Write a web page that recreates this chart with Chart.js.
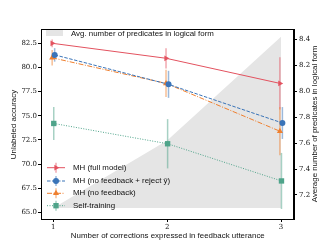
<!DOCTYPE html>
<html>
<head>
<meta charset="utf-8">
<script src="https://cdn.jsdelivr.net/npm/chart.js@4.4.1/dist/chart.umd.min.js"></script>
<style>
    html, body { margin: 0; padding: 0; background: #fff; }
</style>
</head>
<body>
<canvas id="chart" width="327" height="245"></canvas>
<script>
// x positions (number of corrections) and per-series small jitter
const corrections = [1, 2, 3];
const jitter = [-0.01, 0.012, -0.01, 0.004];

// Unlabeled accuracy, mean and error
const fullModel = [82.5, 80.95, 78.35];
const fullModelErr = [0.4, 1.05, 2.7];
const rejectModel = [81.3, 78.25, 74.25];
const rejectModelErr = [0.7, 1.4, 1.65];
const noFeedback = [81.0, 78.35, 73.4];
const noFeedbackErr = [0.8, 1.4, 2.5];
const selfTraining = [74.2, 72.1, 68.25];
const selfTrainingErr = [1.7, 2.55, 2.9];

// Avg. number of predicates (right axis)
const avgPredicates = [7.1, 7.62, 8.42];
const predicateBase = 7.1;

const accuracyTicks = [65.0, 67.5, 70.0, 72.5, 75.0, 77.5, 80.0, 82.5];
const predicateTicks = [7.2, 7.4, 7.6, 7.8, 8.0, 8.2, 8.4];

const seriesNames = ['MH (full model)', 'MH (no feedback + reject \u0177)', 'MH (no feedback)', 'Self-training'];
const seriesColors = ['#e3525f', '#3a74b8', '#ef7f2e', '#4fa48a'];
const errColors = ['rgba(227,82,95,0.5)', 'rgba(58,116,184,0.5)', 'rgba(239,127,46,0.5)', 'rgba(79,164,138,0.5)'];
const seriesValues = [fullModel, rejectModel, noFeedback, selfTraining];
const seriesErrors = [fullModelErr, rejectModelErr, noFeedbackErr, selfTrainingErr];
const markerStyles = ['triangle', 'circle', 'triangle', 'rect'];
const markerRotation = [90, 0, 0, 0];
const markerRadius = [3.3, 3, 3.5, 3.8];
const dashes = [[], [3.5, 1.5], [5, 1.5, 1, 1.5], [1, 1.5]];

const tickFont = { family: 'DejaVu Serif', size: 7 };
const sansFont = '7.9px "Liberation Sans", sans-serif';

const lineSets = seriesValues.map((vals, s) => ({
    label: seriesNames[s],
    yAxisID: 'y',
    data: vals.map((v, i) => ({ x: corrections[i] + jitter[s], y: v })),
    borderColor: seriesColors[s],
    backgroundColor: seriesColors[s],
    borderWidth: 1,
    borderDash: dashes[s],
    pointStyle: markerStyles[s],
    pointRotation: markerRotation[s],
    pointRadius: markerRadius[s],
    pointBorderWidth: 0,
    fill: false,
    order: 1
}));

const errorBars = {
    id: 'errorBars',
    afterDatasetDraw(chart, args) {
        if (args.index !== 0) return;
        const ctx = chart.ctx;
        const xs = chart.scales.x, ys = chart.scales.y;
        ctx.save();
        ctx.lineWidth = 1.5;
        seriesValues.forEach((vals, s) => {
            ctx.strokeStyle = errColors[s];
            vals.forEach((v, i) => {
                const px = xs.getPixelForValue(corrections[i] + jitter[s]);
                ctx.beginPath();
                ctx.moveTo(px, ys.getPixelForValue(v - seriesErrors[s][i]));
                ctx.lineTo(px, ys.getPixelForValue(v + seriesErrors[s][i]));
                ctx.stroke();
            });
        });
        ctx.restore();
    }
};

const decorations = {
    id: 'decorations',
    afterDraw(chart) {
        const ctx = chart.ctx;
        const a = chart.chartArea;
        ctx.save();
        // frame
        ctx.strokeStyle = '#000';
        ctx.lineWidth = 1;
        ctx.strokeRect(a.left + 0.5, a.top + 0.5, a.right - a.left - 1, a.bottom - a.top);

        ctx.font = sansFont;
        ctx.textBaseline = 'middle';

        // gray area legend
        ctx.fillStyle = '#e5e5e5';
        ctx.fillRect(46, 30, 17, 6);
        ctx.fillStyle = '#111';
        ctx.textAlign = 'left';
        ctx.fillText('Avg. number of predicates in logical form', 71, 33.5);

        // lines legend
        const rows = [167.7, 181, 193.3, 205.7];
        rows.forEach((y, s) => {
            ctx.strokeStyle = errColors[s];
            ctx.lineWidth = 1.5;
            ctx.setLineDash([]);
            ctx.beginPath();
            ctx.moveTo(56, y - 5);
            ctx.lineTo(56, y + 5);
            ctx.stroke();
            ctx.strokeStyle = seriesColors[s];
            ctx.lineWidth = 1;
            ctx.setLineDash(dashes[s]);
            ctx.beginPath();
            ctx.moveTo(47, y);
            ctx.lineTo(65, y);
            ctx.stroke();
            ctx.setLineDash([]);
            ctx.fillStyle = seriesColors[s];
            Chart.helpers.drawPoint(ctx, {
                pointStyle: markerStyles[s], radius: markerRadius[s],
                rotation: markerRotation[s], borderWidth: 0
            }, 56, y);
            ctx.fillStyle = '#111';
            ctx.fillText(seriesNames[s], 73, y);
        });

        // axis titles
        ctx.textAlign = 'center';
        ctx.fillText('Number of corrections expressed in feedback utterance', 167.8, 235.5);
        ctx.save();
        ctx.translate(14, 124.5);
        ctx.rotate(-Math.PI / 2);
        ctx.fillText('Unlabeled accuracy', 0, 0);
        ctx.restore();
        ctx.save();
        ctx.translate(315, 124);
        ctx.rotate(-Math.PI / 2);
        ctx.fillText('Average number of predicates in logical form', 0, 0);
        ctx.restore();
        ctx.restore();
    }
};

const axisCommon = {
    grid: { drawOnChartArea: false, drawTicks: true, tickLength: 3, tickColor: '#000', lineWidth: 1 },
    border: { display: true, color: '#000', width: 1 },
    ticks: { font: tickFont, color: '#111', padding: 1 }
};

new Chart(document.getElementById('chart'), {
    type: 'line',
    data: {
        datasets: [{
            label: 'Avg. number of predicates in logical form',
            yAxisID: 'y2',
            data: avgPredicates.map((v, i) => ({ x: corrections[i], y: v })),
            backgroundColor: '#e5e5e5',
            borderWidth: 0,
            pointRadius: 0,
            fill: { value: predicateBase },
            order: 10
        }].concat(lineSets)
    },
    options: {
        responsive: false,
        animation: false,
        layout: { padding: { top: 29, left: 0, right: 0, bottom: 0 } },
        plugins: { legend: { display: false }, tooltip: { enabled: false } },
        scales: {
            x: Object.assign({}, axisCommon, {
                type: 'linear', position: 'bottom', min: 0.892, max: 3.114,
                afterBuildTicks: s => { s.ticks = corrections.map(v => ({ value: v })); },
                afterFit: s => { s.height = 26; },
                ticks: Object.assign({}, axisCommon.ticks, { callback: v => String(v), padding: 1 })
            }),
            y: Object.assign({}, axisCommon, {
                type: 'linear', position: 'left', min: 64.31, max: 83.98,
                afterBuildTicks: s => { s.ticks = accuracyTicks.map(v => ({ value: v })); },
                afterFit: s => { s.width = 41; },
                ticks: Object.assign({}, axisCommon.ticks, { callback: v => v.toFixed(1) })
            }),
            y2: Object.assign({}, axisCommon, {
                type: 'linear', position: 'right', min: 7.015, max: 8.479,
                afterBuildTicks: s => { s.ticks = predicateTicks.map(v => ({ value: v })); },
                afterFit: s => { s.width = 33; },
                ticks: Object.assign({}, axisCommon.ticks, { callback: v => v.toFixed(1), padding: 2 })
            })
        }
    },
    plugins: [errorBars, decorations]
});
</script>
</body>
</html>
